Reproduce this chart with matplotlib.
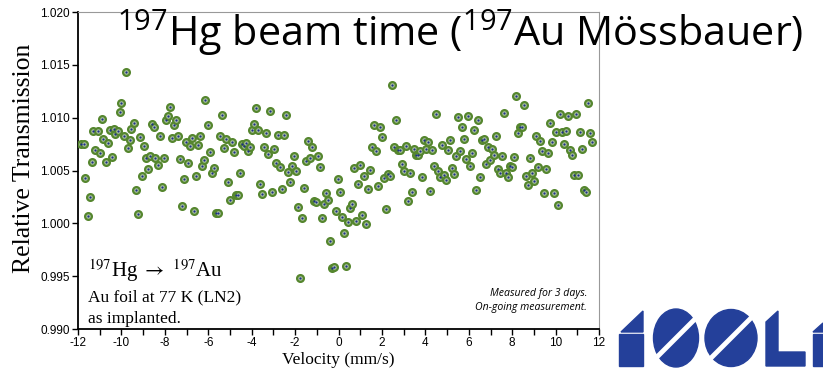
""" plot.py """
import matplotlib
matplotlib.use("Agg")
import matplotlib.pyplot as plt
from matplotlib.patches import Polygon, Rectangle, Ellipse
from matplotlib.ticker import MultipleLocator

plt.rcParams['axes.unicode_minus'] = False
plt.rcParams['mathtext.fontset'] = 'custom'
plt.rcParams['mathtext.rm'] = 'Open Sans'

# velocity (mm/s) and relative transmission
velocity = [
    -11.85, -11.74, -11.66, -11.55, -11.46, -11.37, -11.29, -11.20, -11.09, -11.00,
    -10.91, -10.83, -10.73, -10.63, -10.54, -10.45, -10.36, -10.28, -10.17, -10.08,
    -10.00, -9.90, -9.80, -9.71, -9.62, -9.54, -9.43, -9.34, -9.25, -9.16,
    -9.07, -8.97, -8.88, -8.79, -8.70,
    -8.59, -8.51, -8.44, -8.33, -8.24, -8.15, -8.05, -7.96, -7.87, -7.78,
    -7.68, -7.59, -7.50, -7.41, -7.32, -7.22, -7.13, -7.04, -6.95, -6.86,
    -6.76, -6.67, -6.58, -6.49, -6.39, -6.30, -6.21, -6.13, -6.03, -5.93,
    -5.84, -5.75, -5.66, -5.57, -5.47, -5.38, -5.29, -5.20,
    -5.10, -5.01, -4.92, -4.83, -4.74, -4.64, -4.55, -4.46, -4.37, -4.28,
    -4.18, -4.09, -4.00, -3.91, -3.81, -3.72, -3.63, -3.54, -3.45, -3.35,
    -3.26, -3.17, -3.08, -2.99, -2.89, -2.80, -2.71, -2.62, -2.52, -2.43,
    -2.34, -2.25, -2.16, -2.06, -1.97, -1.88, -1.79,
    -1.70, -1.60, -1.51, -1.42, -1.33, -1.24, -1.14, -1.05, -0.96, -0.87,
    -0.77, -0.68, -0.59, -0.50, -0.40, -0.31, -0.22, -0.13, -0.04, 0.05,
    0.15, 0.24, 0.33, 0.42, 0.52, 0.61, 0.70, 0.79, 0.88, 0.98,
    1.07, 1.16, 1.25, 1.34, 1.44, 1.53, 1.62,
    1.71, 1.81, 1.90, 1.99, 2.08, 2.17, 2.27, 2.36, 2.45, 2.54,
    2.63, 2.73, 2.82, 2.91, 3.00, 3.10, 3.19, 3.28, 3.37, 3.46,
    3.56, 3.65, 3.74, 3.83, 3.92, 4.02, 4.11, 4.20, 4.29, 4.39,
    4.48, 4.57, 4.66, 4.75, 4.85, 4.94, 5.03,
    5.12, 5.21, 5.31, 5.40, 5.49, 5.58, 5.67, 5.77, 5.86, 5.95,
    6.04, 6.13, 6.23, 6.32, 6.41, 6.50, 6.60, 6.69, 6.78, 6.87,
    6.96, 7.06, 7.15, 7.24, 7.33, 7.42, 7.52, 7.61, 7.70, 7.79,
    7.89, 7.98, 8.07, 8.16, 8.25, 8.35, 8.44,
    8.53, 8.62, 8.71, 8.81, 8.90, 8.99, 9.08, 9.17, 9.27, 9.36,
    9.45, 9.54, 9.64, 9.73, 9.82, 9.91, 10.00, 10.10, 10.19, 10.28,
    10.37, 10.46, 10.56, 10.65, 10.74, 10.83, 10.93, 11.02, 11.11, 11.20,
    11.29, 11.39, 11.48, 11.57, 11.66,
]
transmission = [
    1.00755, 1.00755, 1.00428, 1.00069, 1.00254, 1.00582, 1.00875, 1.00695, 1.00875, 1.00664,
    1.00992, 1.00796, 1.00582, 1.00762, 1.00884, 1.00626, 1.00891, 1.00847, 1.00872, 1.01051,
    1.01143, 1.00831, 1.01433, 1.00714, 1.00793, 1.00891, 1.00951, 1.00314, 1.00091, 1.00818,
    1.00450, 1.00736, 1.00617, 1.00516, 1.00636,
    1.00941, 1.00916, 1.00617, 1.00554, 1.00825, 1.00343, 1.00617, 1.00976, 1.01014, 1.01099,
    1.00809, 1.00932, 1.00976, 1.00825, 1.00610, 1.00160, 1.00418, 1.00774, 1.00569, 1.00736,
    1.00809, 1.00116, 1.00450, 1.00739, 1.00831, 1.00544, 1.00601, 1.01171, 1.00932, 1.00677,
    1.00475, 1.00525, 1.00100, 1.00094, 1.00831, 1.01023, 1.00711, 1.00796,
    1.00393, 1.00220, 1.00771, 1.00673, 1.00270, 1.00264, 1.00478, 1.00749, 1.00736, 1.00765,
    1.00686, 1.00718, 1.00884, 1.00941, 1.01096, 1.00884, 1.00374, 1.00277, 1.00721, 1.00853,
    1.00655, 1.01067, 1.00296, 1.00699, 1.00573, 1.00834, 1.00535, 1.00327, 1.00840, 1.01029,
    1.00484, 1.00387, 1.00547, 1.00636, 1.00494, 1.00157, 0.99480,
    1.00047, 1.00333, 1.00588, 1.00777, 1.00623, 1.00718, 1.00210, 1.00201, 1.00639, 1.00529,
    1.00050, 1.00182, 1.00289, 1.00217, 0.99836, 0.99574, 0.99587, 1.00113, 1.00421, 1.00299,
    1.00056, 0.99911, 0.99596, 1.00009, 1.00141, 1.00179, 1.00519, 1.00025, 1.00368, 1.00554,
    1.00075, 1.00450, 0.99990, 1.00324, 1.00506, 1.00721, 1.00929,
    1.00680, 1.00352, 1.00913, 1.00818, 1.00428, 1.00138, 1.00469, 1.00450, 1.01313, 1.00724,
    1.00982, 1.00695, 1.00695, 1.00566, 1.00494, 1.00736, 1.00210, 1.00472, 1.00299, 1.00705,
    1.00648, 1.00648, 1.00680, 1.00434, 1.00787, 1.00699, 1.00771, 1.00302, 1.00692, 1.00538,
    1.01039, 1.00494, 1.00437, 1.00740, 1.00462, 1.00412, 1.00695,
    1.00787, 1.00522, 1.00466, 1.00642, 1.01004, 1.00689, 1.00913, 1.00799, 1.00610, 1.01014,
    1.00541, 1.00661, 1.00884, 1.00311, 1.00979, 1.00443, 1.00784, 1.00799, 1.00557, 1.00727,
    1.00604, 1.00705, 1.00645, 1.00822, 1.00510, 1.00475, 1.00639, 1.01048, 1.00481, 1.00437,
    1.00544, 1.00532, 1.00626, 1.01206, 1.00856, 1.00916, 1.00907,
    1.01118, 1.00450, 1.00365, 1.00614, 1.00472, 1.00399, 1.00828, 1.00530, 1.00781, 1.00689,
    1.00286, 1.00516, 1.00661, 1.00951, 1.00768, 1.00289, 1.00866, 1.00173, 1.01036, 1.00866,
    1.00749, 1.00875, 1.01020, 1.00695, 1.00648, 1.00460, 1.01039, 1.00453, 1.00869, 1.00699,
    1.00314, 1.00292, 1.01143, 1.00853, 1.00771,
]

x_ticks = [-12, -10, -8, -6, -4, -2, 0, 2, 4, 6, 8, 10, 12]
y_ticks = [0.990, 0.995, 1.000, 1.005, 1.010, 1.015, 1.020]

fig = plt.figure(figsize=(8.23, 3.74), dpi=100)

# background layer for the logo, in pixel coordinates
bg = fig.add_axes([0, 0, 1, 1])
bg.set_xlim(0, 823)
bg.set_ylim(374, 0)
bg.axis('off')
blue = '#24409a'
bg.add_patch(Polygon([(621, 332), (643, 311), (643, 332)], color=blue))
bg.add_patch(Rectangle((619, 334), 24, 32, color=blue))
bg.add_patch(Ellipse((676, 338), 45, 58, color=blue))
bg.plot([652, 700], [362, 314], color='white', lw=3.5)
bg.add_patch(Ellipse((731, 338), 52, 57, color=blue))
bg.plot([707, 755], [362, 314], color='white', lw=3.5)
bg.add_patch(Polygon([(766, 322), (778, 311), (778, 352), (805, 352),
                      (805, 366), (766, 366)], color=blue))
bg.add_patch(Polygon([(813, 332), (823, 323), (823, 332)], color=blue))
bg.add_patch(Rectangle((813, 334), 10, 32, color=blue))

ax = fig.add_axes([0.0948, 0.1203, 0.6331, 0.8476])
ax.scatter(velocity, transmission, s=24, facecolor='#a9bfa0',
           edgecolor='#55862e', linewidth=1.6, zorder=3)
ax.scatter(velocity, transmission, s=2.5, color='#1c2e8c', lw=0, zorder=4)

ax.set_xlim(-12, 12)
ax.set_ylim(0.990, 1.020)
ax.set_xticks(x_ticks)
ax.set_yticks(y_ticks)
ax.set_yticklabels(['%.3f' % v for v in y_ticks])
ax.xaxis.set_minor_locator(MultipleLocator(1))
ax.tick_params(which='both', direction='out', length=4, width=1,
               labelsize=8.5, pad=2)
for lab in ax.get_xticklabels() + ax.get_yticklabels():
    lab.set_family('Liberation Sans')

ax.spines['left'].set_linewidth(1.3)
ax.spines['bottom'].set_linewidth(1.3)
ax.spines['top'].set_color('#999999')
ax.spines['right'].set_color('#999999')

ax.set_xlabel('Velocity (mm/s)', family='Liberation Serif', fontsize=12.5, labelpad=2)
ax.set_ylabel('Relative Transmission', family='Liberation Serif', fontsize=18.5)
ax.yaxis.set_label_coords(-0.083, 0.54)

ax.text(0.019, 0.163, r'$^{197}$Hg $\rightarrow$ $^{197}$Au', transform=ax.transAxes,
        family='Liberation Serif', fontsize=15, math_fontfamily='stix')
ax.text(0.019, 0.088, 'Au foil at 77 K (LN2)', transform=ax.transAxes,
        family='Liberation Serif', fontsize=12.5)
ax.text(0.019, 0.019, 'as implanted.', transform=ax.transAxes,
        family='Liberation Serif', fontsize=12.5)
ax.text(0.977, 0.104, 'Measured for 3 days.', transform=ax.transAxes,
        family='Open Sans', style='italic', fontsize=7.6, ha='right',
        va='baseline')
ax.text(0.977, 0.060, 'On-going measurement.', transform=ax.transAxes,
        family='Open Sans', style='italic', fontsize=7.6, ha='right',
        va='baseline')

fig.text(117 / 823, 1 - 46 / 374, r'$^{197}$Hg beam time ($^{197}$Au Mössbauer)',
         family='Open Sans', fontsize=29.8, math_fontfamily='custom', va='baseline')

plt.savefig('out.png', dpi=100)
